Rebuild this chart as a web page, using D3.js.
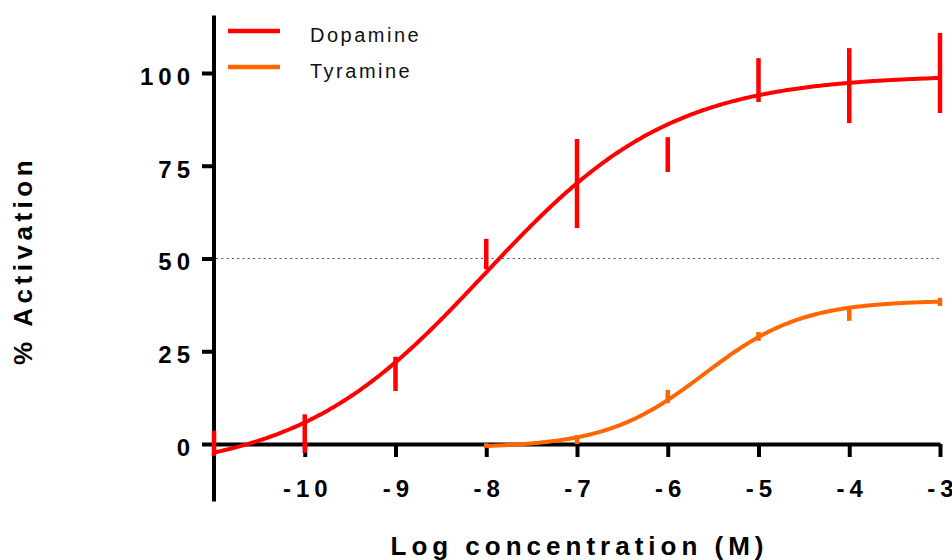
<!DOCTYPE html>
<html>
<head>
<meta charset="utf-8">
<script src="https://cdn.jsdelivr.net/npm/d3@7/dist/d3.min.js"></script>
<style>
  html, body { margin: 0; padding: 0; background: #fff; }
  svg { display: block; font-family: "Liberation Sans", Arial, Helvetica, sans-serif; }
</style>
</head>
<body>
<svg id="chart" width="952" height="560"></svg>
<script>
// Log molar concentrations tested
const dopamineLogConc = [-11, -10, -9, -8, -7, -6, -5, -4, -3];
const dopamineMean    = [0.2, 2.8, 18.9, 51.2, 70.2, 78.0, 98.1, 96.6, 100.0];
const dopamineSem     = [3.4, 5.2, 4.6, 4.1, 12.0, 4.7, 5.9, 10.1, 10.8];

const tyramineLogConc = [-8, -7, -6, -5, -4, -3];
const tyramineMean    = [-0.4, 1.2, 12.8, 29.0, 35.0, 38.3];
const tyramineSem     = [0.6, 1.2, 1.8, 1.2, 1.8, 1.1];

// Four-parameter logistic fit results: bottom, top, logEC50, Hill slope
const dopamineFit = { bottom: -8, top: 99.5, logEC50: -8.02, hill: 0.42 };
const tyramineFit = { bottom: -1, top: 38.7, logEC50: -5.6, hill: 0.8 };

const xTicks = [-10, -9, -8, -7, -6, -5, -4, -3];
const yTicks = [0, 25, 50, 75, 100];
const seriesNames = ["Dopamine", "Tyramine"];
const seriesColors = ["#ff0000", "#ff6600"];

const svg = d3.select("#chart");

const x = d3.scaleLinear().domain([-11, -3]).range([214, 940]);
const y = d3.scaleLinear().domain([0, 100]).range([444, 73]);

const tickFont = 24, tickSpacing = 5;

// Y axis: long spine plus ticks
svg.append("line")
  .attr("x1", x(-11)).attr("x2", x(-11))
  .attr("y1", y(115.5)).attr("y2", y(-15.5))
  .attr("stroke", "#000").attr("stroke-width", 4);

const yAxis = svg.append("g")
  .attr("transform", `translate(${x(-11)},0)`)
  .call(d3.axisLeft(y).tickValues(yTicks).tickSize(12).tickSizeOuter(0));
yAxis.select(".domain").remove();
yAxis.selectAll(".tick line").attr("stroke", "#000").attr("stroke-width", 4);
yAxis.selectAll(".tick text")
  .attr("x", -19).attr("dy", "0.47em")
  .attr("fill", "#000")
  .style("font-size", tickFont + "px")
  .style("font-weight", "bold")
  .style("letter-spacing", tickSpacing + "px")
  .style("font-family", "\"Liberation Sans\", Arial, sans-serif");

// X axis at zero activation
const xAxis = svg.append("g")
  .attr("transform", `translate(0,${y(0)})`)
  .call(d3.axisBottom(x).tickValues(xTicks).tickSize(13).tickSizeOuter(0).tickFormat(d => String(d)));
xAxis.select(".domain").attr("stroke", "#000").attr("stroke-width", 4);
xAxis.selectAll(".tick line").attr("stroke", "#000").attr("stroke-width", 4);
xAxis.selectAll(".tick text")
  .attr("y", 53).attr("dy", 0).attr("dx", tickSpacing / 2)
  .attr("fill", "#000")
  .style("font-size", tickFont + "px")
  .style("font-weight", "bold")
  .style("letter-spacing", tickSpacing + "px")
  .style("font-family", "\"Liberation Sans\", Arial, sans-serif");

// 50% reference line
svg.append("line")
  .attr("x1", x(-11) + 2).attr("x2", x(-3))
  .attr("y1", y(50)).attr("y2", y(50))
  .attr("stroke", "#555").attr("stroke-width", 1.2)
  .attr("stroke-dasharray", "2,3.3");

// Axis titles
svg.append("text")
  .attr("x", (x(-11) + x(-3)) / 2 + 2.5).attr("y", 555)
  .attr("text-anchor", "middle")
  .style("font-size", "26px").style("font-weight", "bold")
  .style("letter-spacing", "5px")
  .text("Log concentration (M)");

svg.append("text")
  .attr("transform", `translate(32,${y(50) + 2}) rotate(-90)`)
  .attr("text-anchor", "middle")
  .style("font-size", "26px").style("font-weight", "bold")
  .style("letter-spacing", "4.5px")
  .text("% Activation");

// Fitted curves
function logistic(fit) {
  return v => fit.bottom + (fit.top - fit.bottom) / (1 + Math.pow(10, (fit.logEC50 - v) * fit.hill));
}
function drawSeries(conc, mean, sem, fit, color) {
  const f = logistic(fit);
  const lo = d3.min(conc), hi = d3.max(conc);
  const xs = d3.range(lo, hi + 1e-9, 0.02);
  svg.append("path")
    .datum(xs)
    .attr("fill", "none")
    .attr("stroke", color)
    .attr("stroke-width", 4)
    .attr("d", d3.line().x(d => x(d)).y(d => y(f(d))).curve(d3.curveLinear));

  svg.append("g").selectAll("line")
    .data(conc.map((c, i) => ({ c, m: mean[i], s: sem[i] })))
    .join("line")
    .attr("x1", d => x(d.c)).attr("x2", d => x(d.c))
    .attr("y1", d => y(d.m + d.s)).attr("y2", d => y(d.m - d.s))
    .attr("stroke", color).attr("stroke-width", 4.5);
}

drawSeries(tyramineLogConc, tyramineMean, tyramineSem, tyramineFit, seriesColors[1]);
drawSeries(dopamineLogConc, dopamineMean, dopamineSem, dopamineFit, seriesColors[0]);

// Legend
const legend = svg.append("g");
seriesNames.forEach((name, i) => {
  const ly = 31 + i * 36;
  legend.append("line")
    .attr("x1", 228).attr("x2", 280).attr("y1", ly).attr("y2", ly)
    .attr("stroke", seriesColors[i]).attr("stroke-width", 4.5);
  legend.append("text")
    .attr("x", 310).attr("y", ly + 10.5)
    .style("font-size", "20px")
    .style("letter-spacing", "2.5px")
    .attr("fill", "#111")
    .text(name);
});
</script>
</body>
</html>
